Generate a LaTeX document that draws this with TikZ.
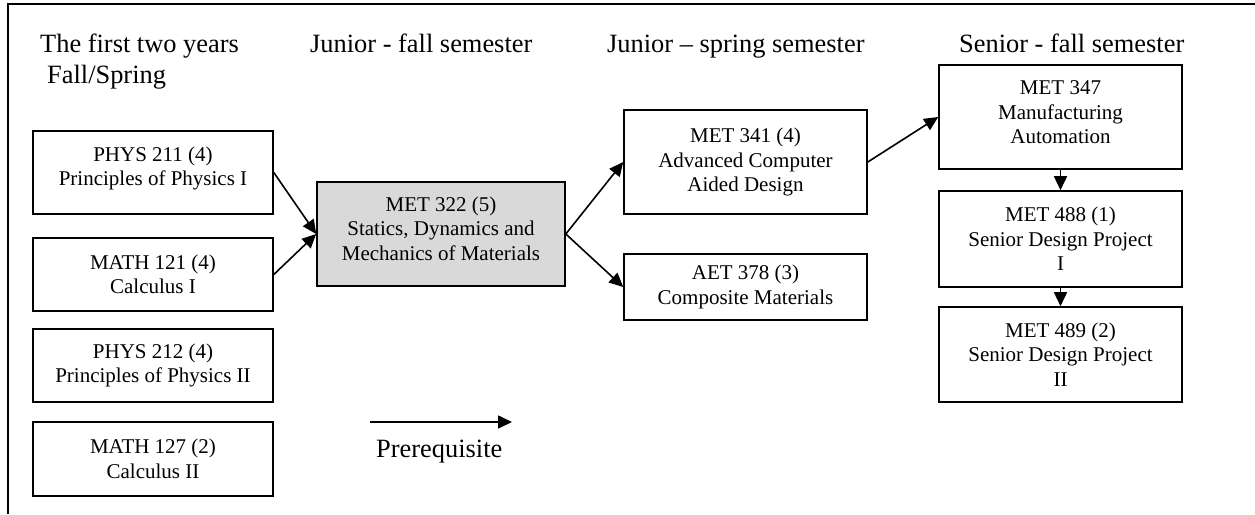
\documentclass[tikz,border=0pt]{standalone}
\usepackage{fontspec}
\setmainfont{Liberation Serif}
\usetikzlibrary{arrows.meta}
\newcommand\addepth[1]{\rule[-#1pt]{0pt}{#1pt}}
\begin{document}
\begin{tikzpicture}[x=1pt,y=-1pt,
  course/.style={draw, line width=1.6pt, align=center, inner sep=0pt,
    font=\fontsize{21}{24.5}\selectfont, anchor=center},
  hdr/.style={anchor=base west, inner sep=0pt, font=\fontsize{26.4}{31}\selectfont},
  prereq/.style={line width=1.6pt, -{Triangle[length=14pt,width=13pt]}}]
\useasboundingbox (0,0) rectangle (1255,514);
% frame
\coordinate (fa) at (8,514);
\coordinate (fb) at (8,3.5);
\coordinate (fc) at (1255,3.5);
\draw[line width=2pt] (fa) -- (fb) -- (fc);
% headers
\node[hdr] (h1) at (40,52) {The first two years};
\node[hdr] (h1b) at (47,83) {Fall/Spring};
\node[hdr] (h2) at (310,52) {Junior - fall semester};
\node[hdr] (h3) at (607,52) {Junior – spring semester};
\node[hdr] (h4) at (959,52) {Senior - fall semester};
% first two years
\node[course, minimum width=240pt, minimum height=83pt] (p211) at (153,172.5)
  {PHYS 211 (4)\\Principles of Physics I\addepth{13}};
\node[course, minimum width=240pt, minimum height=73pt] (m121) at (153,274.5)
  {MATH 121 (4)\\Calculus I};
\node[course, minimum width=240pt, minimum height=73pt] (p212) at (153,365.5)
  {PHYS 212 (4)\\Principles of Physics II};
\node[course, minimum width=240pt, minimum height=74pt] (m127) at (153,459)
  {MATH 127 (2)\\Calculus II};
% junior fall
\node[course, fill=black!15, minimum width=248pt, minimum height=104pt] (m322) at (441,234)
  {MET 322 (5)\\Statics, Dynamics and\\Mechanics of Materials\addepth{11}};
% junior spring
\node[course, minimum width=243pt, minimum height=104pt] (m341) at (745.5,162)
  {MET 341 (4)\\Advanced Computer\\Aided Design};
\node[course, minimum width=243pt, minimum height=66pt] (a378) at (745.5,287)
  {AET 378 (3)\\Composite Materials};
% senior fall
\node[course, minimum width=243pt, minimum height=104pt] (m347) at (1060.5,117)
  {MET 347\\Manufacturing\\Automation\addepth{9}};
\node[course, minimum width=243pt, minimum height=96pt] (m488) at (1060.5,239)
  {MET 488 (1)\\Senior Design Project\\I};
\node[course, minimum width=243pt, minimum height=95pt] (m489) at (1060.5,354.5)
  {MET 489 (2)\\Senior Design Project\\II};
% prerequisites
\draw[prereq] (p211.east) -- (m322.west);
\draw[prereq] (m121.east) -- (m322.west);
\draw[prereq] (m322.east) -- (m341.west);
\draw[prereq] (m322.east) -- (a378.west);
\draw[prereq] (m341.east) -- (m347.west);
\draw[prereq] (m347.south) -- (m488.north);
\draw[prereq] (m488.south) -- (m489.north);
% legend
\coordinate (la) at (370,422);
\coordinate (lb) at (512,422);
\draw[prereq] (la) -- (lb);
\node[hdr] (lbl) at (376,457) {Prerequisite};
\end{tikzpicture}
\end{document}
